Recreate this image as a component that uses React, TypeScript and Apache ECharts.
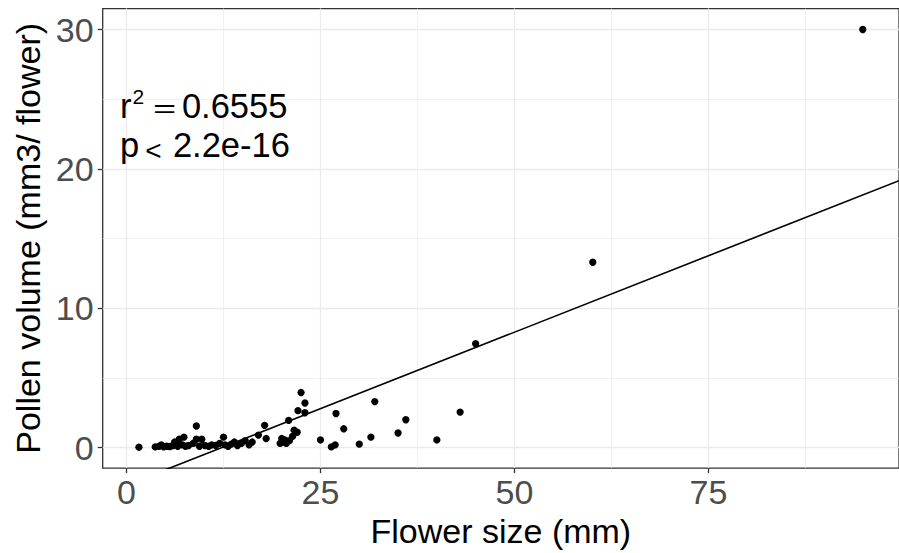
import React, { useEffect, useRef } from "react";
import * as echarts from "echarts";

// Flower size (mm) and pollen volume (mm3/ flower)
const flowerSize: number[] = [
  1.6, 3.7, 4.2, 4.5, 4.8, 5.2, 5.6, 6.0, 6.2, 6.6, 6.8, 7.2, 7.4, 7.6, 8.0,
  8.6, 9.0, 9.0, 9.4, 9.7, 10.1, 10.6, 11.0, 11.5, 12.0, 12.5, 12.7, 13.1, 13.5,
  13.9, 14.3, 14.8, 15.3, 15.8, 16.2, 17.0, 17.8, 18.0, 19.8, 20.0, 20.2, 20.4,
  20.6, 20.9, 21.0, 21.4, 21.6, 22.0, 22.1, 22.5, 23.0, 23.0, 25.0, 26.4, 26.9,
  27.0, 28.0, 30.0, 31.5, 32.0, 35.0, 36.0, 40.0, 43.0, 45.0, 60.1, 94.9,
];
const pollenVolume: number[] = [
  0.03, 0.05, 0.1, 0.2, 0.05, 0.1, 0.08, 0.15, 0.4, 0.1, 0.6, 0.2, 0.75, 0.1,
  0.15, 0.3, 1.55, 0.6, 0.1, 0.6, 0.15, 0.1, 0.2, 0.15, 0.3, 0.75, 0.2, 0.1,
  0.25, 0.4, 0.15, 0.3, 0.5, 0.2, 0.4, 0.9, 1.6, 0.65, 0.3, 0.65, 0.4, 0.55,
  0.3, 1.95, 0.5, 0.8, 1.25, 1.1, 2.65, 3.95, 3.2, 2.5, 0.55, 0.05, 0.2, 2.45,
  1.35, 0.25, 0.75, 3.3, 1.05, 2.0, 0.55, 2.55, 7.45, 13.3, 30.0,
];

// Fitted linear regression line
const SLOPE = 0.2194;
const INTERCEPT = -2.69;

// Axis ranges and ticks
const X_MIN = -3.07;
const X_MAX = 99.57;
const Y_MIN = -1.47;
const Y_MAX = 31.5;
const xMajorTicks = [0, 25, 50, 75];
const xMinorTicks = [12.5, 37.5, 62.5, 87.5];
const yMajorTicks = [0, 10, 20, 30];
const yMinorTicks = [5, 15, 25];

const FONT = "'Liberation Sans', Arial, Helvetica, sans-serif";

export default function App() {
  const ref = useRef<HTMLDivElement>(null);

  useEffect(() => {
    if (!ref.current) return;
    const chart = echarts.init(ref.current, undefined, { renderer: "svg" });

    const points = flowerSize.map((x, i) => [x, pollenVolume[i]]);
    const fitLine = [
      [X_MIN, INTERCEPT + SLOPE * X_MIN],
      [X_MAX, INTERCEPT + SLOPE * X_MAX],
    ];

    const gridColor = "#EBEBEB";
    const dark = "#333333";
    const txt = (text: string, x: number, y: number, size: number, extra: any = {}) => ({
      type: "text",
      x,
      y,
      z: 100,
      ...extra,
      style: { text, font: `${size}px ${FONT}`, fill: "#000000", verticalAlign: "middle" },
    });

    chart.setOption({
      animation: false,
      backgroundColor: "#ffffff",
      grid: {
        left: 102.7,
        top: 8.6,
        right: -3.2,
        bottom: 83.8,
        show: true,
        borderColor: dark,
        borderWidth: 1.3,
        backgroundColor: "transparent",
      },
      xAxis: [
        {
          type: "value",
          min: X_MIN,
          max: X_MAX,
          minInterval: 25,
          maxInterval: 25,
          name: "Flower size (mm)",
          nameLocation: "middle",
          nameGap: 42,
          nameTextStyle: { fontFamily: FONT, fontSize: 34, color: "#000000" },
          axisLine: { show: false, onZero: false },
          axisTick: {
            show: true,
            length: 5,
            lineStyle: { color: dark, width: 1.3 },
            customValues: xMajorTicks,
          },
          axisLabel: {
            show: true,
            fontFamily: FONT,
            fontSize: 34,
            color: "#4D4D4D",
            margin: 7,
            customValues: xMajorTicks,
          },
          splitLine: { show: true, lineStyle: { color: gridColor, width: 1.3 } },
        },
        {
          type: "value",
          min: X_MIN,
          max: X_MAX,
          minInterval: 12.5,
          maxInterval: 12.5,
          position: "bottom",
          axisLine: { show: false, onZero: false },
          axisTick: { show: false, customValues: xMinorTicks },
          axisLabel: { show: false, customValues: xMinorTicks },
          splitLine: { show: true, lineStyle: { color: gridColor, width: 0.7 } },
        },
      ],
      yAxis: [
        {
          type: "value",
          min: Y_MIN,
          max: Y_MAX,
          minInterval: 10,
          maxInterval: 10,
          name: "Pollen volume (mm3/ flower)",
          nameLocation: "middle",
          nameGap: 52,
          nameTextStyle: { fontFamily: FONT, fontSize: 34, color: "#000000" },
          axisLine: { show: false, onZero: false },
          axisTick: {
            show: true,
            length: 5,
            lineStyle: { color: dark, width: 1.3 },
            customValues: yMajorTicks,
          },
          axisLabel: {
            show: true,
            fontFamily: FONT,
            fontSize: 34,
            color: "#4D4D4D",
            margin: 9,
            customValues: yMajorTicks,
          },
          splitLine: { show: true, lineStyle: { color: gridColor, width: 1.3 } },
        },
        {
          type: "value",
          min: Y_MIN,
          max: Y_MAX,
          minInterval: 5,
          maxInterval: 5,
          position: "left",
          axisLine: { show: false, onZero: false },
          axisTick: { show: false, customValues: yMinorTicks },
          axisLabel: { show: false, customValues: yMinorTicks },
          splitLine: { show: true, lineStyle: { color: gridColor, width: 0.7 } },
        },
      ],
      series: [
        {
          type: "line",
          data: fitLine,
          xAxisIndex: 0,
          yAxisIndex: 0,
          showSymbol: false,
          symbol: "none",
          clip: true,
          lineStyle: { color: "#000000", width: 1.6 },
          silent: true,
          z: 3,
        },
        {
          type: "scatter",
          data: points,
          xAxisIndex: 0,
          yAxisIndex: 0,
          symbol: "circle",
          symbolSize: 7.3,
          itemStyle: { color: "#000000", opacity: 1 },
          z: 4,
        },
      ],
      graphic: [
        txt("r", 120, 105.7, 34.5),
        txt("2", 132.5, 96.6, 21),
        txt("=", 153, 107.9, 34.5, { scaleX: 1.15, scaleY: 0.75, originX: 0, originY: 0 }),
        txt("0.6555", 181.9, 105.7, 34.5),
        txt("p", 120, 144.7, 34.5),
        txt("<", 145.3, 150.8, 28),
        txt("2.2e-16", 172.9, 144.7, 34.5),
      ],
    });

    return () => chart.dispose();
  }, []);

  return (
    <div
      ref={ref}
      style={{ position: "fixed", left: 0, top: 0, width: 899, height: 553 }}
    />
  );
}
